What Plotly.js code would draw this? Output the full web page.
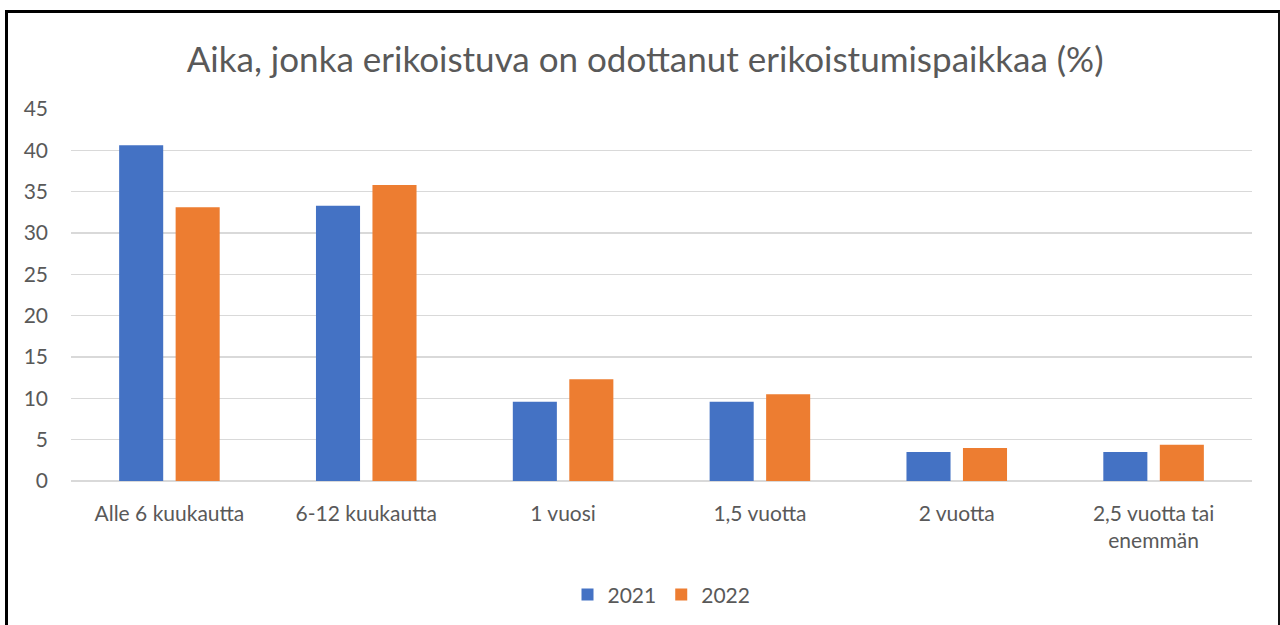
<!DOCTYPE html>
<html><head><meta charset="utf-8">
<script src="https://cdn.plot.ly/plotly-3.0.1.min.js"></script>
<style>
html,body{margin:0;padding:0;background:#fff;}
#chart{width:1280px;height:625px;}
#frame{position:absolute;left:5px;top:10px;width:1275px;height:640px;box-sizing:border-box;border-left:3px solid #000;border-top:3px solid #000;border-right:2px solid #111;pointer-events:none;}
</style></head>
<body>
<div id="chart"></div>
<div id="frame"></div>
<script>
const categories = ["Alle 6 kuukautta", "6-12 kuukautta", "1 vuosi", "1,5 vuotta", "2 vuotta", "2,5 vuotta tai<br>enemmän"];
const values2021 = [40.6, 33.3, 9.6, 9.6, 3.5, 3.5];
const values2022 = [33.1, 35.8, 12.3, 10.5, 4.0, 4.4];
const yTicks = [0, 5, 10, 15, 20, 25, 30, 35, 40, 45];

const traces = [
  {type:'bar', name:'2021', x:categories, y:values2021, marker:{color:'#4472C4'}, hoverinfo:'y'},
  {type:'bar', name:'2022', x:categories, y:values2022, marker:{color:'#ED7D31'}, hoverinfo:'y'}
];
const layout = {
  width:1280, height:625,
  margin:{l:71, r:28, t:109, b:144, autoexpand:false},
  paper_bgcolor:'#fff', plot_bgcolor:'#fff',
  font:{family:'Lato, "Open Sans", sans-serif', color:'#595959', size:21},
  title:{text:'Aika, jonka erikoistuva on odottanut erikoistumispaikkaa (%)', x:0.504, xanchor:'center', y:0.905, yref:'container', yanchor:'middle', font:{size:35, color:'#595959'}},
  barmode:'group', bargap:0.426, bargroupgap:0.22,
  xaxis:{type:'category', automargin:false, showgrid:false, showline:false, zeroline:false, ticks:'', ticklabelstandoff:18, tickfont:{size:21, color:'#595959'}},
  yaxis:{range:[0,45], automargin:false, tickvals:yTicks, showgrid:true, gridcolor:'#d9d9d9', gridwidth:1.5, zeroline:true, zerolinecolor:'#d9d9d9', zerolinewidth:1.5, showline:false, ticks:'', ticklabelstandoff:22, tickfont:{size:21, color:'#595959'}},
  legend:{orientation:'h', x:0.5, xanchor:'center', y:-0.306, yanchor:'middle', font:{size:21, color:'#595959'}, itemwidth:30, traceorder:'normal'},
  showlegend:true
};
Plotly.newPlot('chart', traces, layout, {displayModeBar:false, staticPlot:true});
</script>
</body></html>
